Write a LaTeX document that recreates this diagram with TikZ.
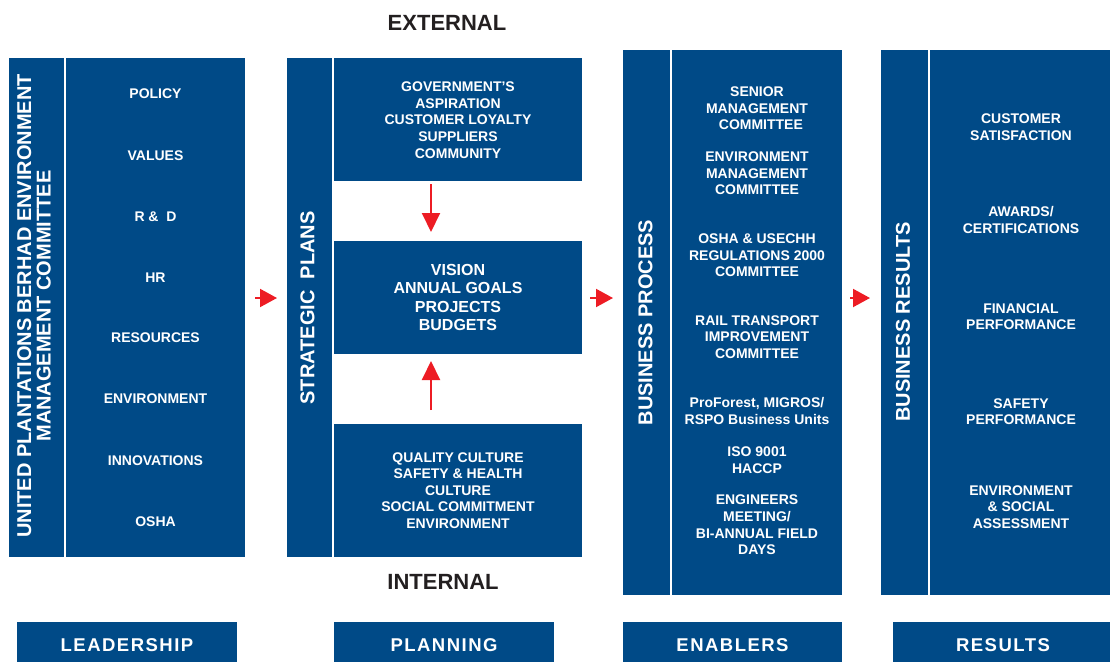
\documentclass[tikz,border=0pt]{standalone}
\usepackage{fontspec}
\setmainfont{Liberation Sans}
\newfontfamily\spacedfont[LetterSpace=8]{Liberation Sans}
\usetikzlibrary{arrows.meta}
\definecolor{upblue}{RGB}{0,74,135}
\definecolor{upred}{RGB}{237,28,36}
\definecolor{updark}{RGB}{35,31,32}
\begin{document}
\begin{tikzpicture}[x=1pt,y=-1pt,
 blk/.style={fill=upblue, draw=none, inner sep=0pt, outer sep=0pt, anchor=north west},
 itm/.style={text=white, font=\bfseries\fontsize{14}{16.6}\selectfont, align=center, inner sep=0pt},
 big/.style={text=white, font=\bfseries\fontsize{16}{18.5}\selectfont, align=center, inner sep=0pt},
 vlabel/.style={text=white, font=\bfseries\fontsize{20}{19.5}\selectfont, align=center, rotate=90, inner sep=0pt},
 side/.style={text=updark, font=\bfseries\fontsize{22}{24}\selectfont, inner sep=0pt},
 foot/.style={blk, text=white, font=\spacedfont\bfseries\fontsize{18.5}{20}\selectfont, minimum height=46pt},
 harrow/.style={draw=upred, line width=2pt, -{Triangle[length=17pt,width=18pt]}},
 varrow/.style={draw=upred, line width=2pt, -{Triangle[length=19pt,width=18pt]}},
]
\useasboundingbox (0,0) rectangle (1110,661);

% Leadership group
\node[blk, minimum width=55pt, minimum height=499pt] (lcol) at (9,58) {};
\node[blk, minimum width=179pt, minimum height=499pt] (lwide) at (66,58) {};
\node[vlabel] (lcoltxt) at (34,306) {UNITED PLANTATIONS BERHAD ENVIRONMENT\\MANAGEMENT COMMITTEE};
\node[itm] (l1) at (155.5,94) {POLICY};
\node[itm] (l2) at (155.5,156) {VALUES};
\node[itm] (l3) at (155.5,217) {R \&\ \ D};
\node[itm] (l4) at (155.5,278) {HR};
\node[itm] (l5) at (155.5,338) {RESOURCES};
\node[itm] (l6) at (155.5,399) {ENVIRONMENT};
\node[itm] (l7) at (155.5,461) {INNOVATIONS};
\node[itm] (l8) at (155.5,522) {OSHA};

% Planning group
\node[blk, minimum width=45pt, minimum height=499pt] (spcol) at (287,58) {};
\node[vlabel] (sptxt) at (307.5,308) {STRATEGIC\ \ PLANS};
\node[blk, minimum width=248pt, minimum height=123pt] (tb) at (334,58) {};
\node[blk, minimum width=248pt, minimum height=113pt] (mb) at (334,241) {};
\node[blk, minimum width=248pt, minimum height=133pt] (bb) at (334,424) {};
\node[itm] (tbtxt) at (458,120) {GOVERNMENT'S\\ASPIRATION\\CUSTOMER LOYALTY\\SUPPLIERS\\COMMUNITY};
\node[big] (mbtxt) at (458,297.5) {VISION\\ANNUAL GOALS\\PROJECTS\\BUDGETS};
\node[itm] (bbtxt) at (458,490.5) {QUALITY CULTURE\\SAFETY \& HEALTH\\CULTURE\\SOCIAL COMMITMENT\\ENVIRONMENT};
\node[side] (ext) at (447,23) {EXTERNAL};
\node[side] (int) at (443,582) {INTERNAL};

% Business process group
\node[blk, minimum width=47pt, minimum height=545pt] (bpcol) at (623,50) {};
\node[blk, minimum width=170pt, minimum height=545pt] (bpwide) at (672,50) {};
\node[vlabel] (bptxt) at (645.5,322.5) {BUSINESS PROCESS};
\node[itm] (b1) at (757,108.5) {SENIOR\\MANAGEMENT\\\ \ COMMITTEE};
\node[itm] (b2) at (757,173.5) {ENVIRONMENT\\MANAGEMENT\\COMMITTEE};
\node[itm] (b3) at (757,255.5) {OSHA \& USECHH\\REGULATIONS 2000\\COMMITTEE};
\node[itm] (b4) at (757,337) {RAIL TRANSPORT\\IMPROVEMENT\\COMMITTEE};
\node[itm] (b5) at (757,411) {ProForest, MIGROS/\\RSPO Business Units};
\node[itm] (b6) at (757,460) {ISO 9001\\HACCP};
\node[itm] (b7) at (757,525) {ENGINEERS\\MEETING/\\BI-ANNUAL FIELD\\DAYS};

% Business results group
\node[blk, minimum width=47pt, minimum height=545pt] (brcol) at (881,50) {};
\node[blk, minimum width=182pt, minimum height=545pt] (brwide) at (930,50) {};
\node[vlabel] (brtxt) at (903,322) {BUSINESS RESULTS};
\node[itm] (r1) at (1021,127) {CUSTOMER\\SATISFACTION};
\node[itm] (r2) at (1021,220) {AWARDS/\\CERTIFICATIONS};
\node[itm] (r3) at (1021,316.5) {FINANCIAL\\PERFORMANCE};
\node[itm] (r4) at (1021,411.5) {SAFETY\\PERFORMANCE};
\node[itm] (r5) at (1021,507) {ENVIRONMENT\\\&\ SOCIAL\\ASSESSMENT};

% Footer labels
\node[foot, minimum width=220pt] (fl) at (17,622) {LEADERSHIP};
\node[foot, minimum width=220pt] (fp) at (334,622) {PLANNING};
\node[foot, minimum width=219pt] (fe) at (623,622) {ENABLERS};
\node[foot, minimum width=220pt] (fr) at (893,622) {RESULTS};

% Arrows
\coordinate (row) at (0,298);
\coordinate (colA) at (431,0);
\draw[harrow, shorten <=10pt, shorten >=10pt] (lwide.east |- row) -- (spcol.west |- row);
\draw[harrow, shorten <=8pt, shorten >=10pt] (mb.east |- row) -- (bpcol.west |- row);
\draw[harrow, shorten <=8pt, shorten >=11pt] (bpwide.east |- row) -- (brcol.west |- row);
\draw[varrow, shorten <=3pt, shorten >=9pt] (tb.south -| colA) -- (mb.north -| colA);
\draw[varrow, shorten <=14pt, shorten >=7pt] (bb.north -| colA) -- (mb.south -| colA);
\end{tikzpicture}
\end{document}
